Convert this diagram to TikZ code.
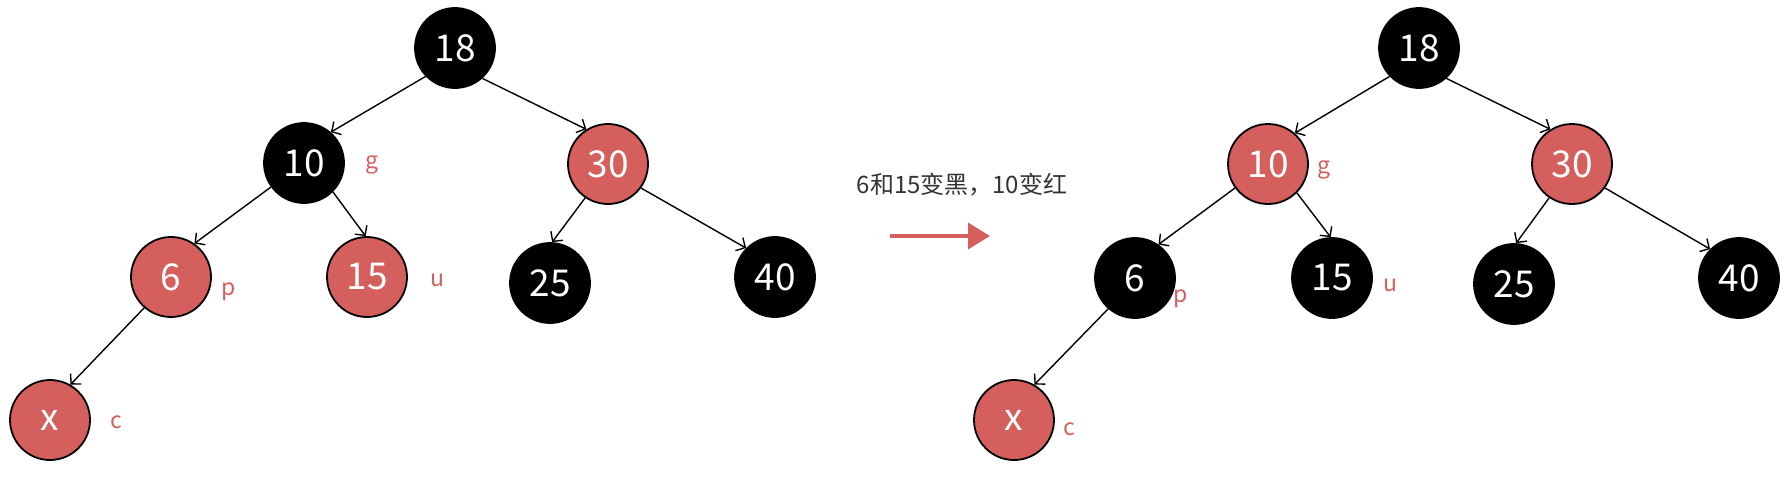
\documentclass[tikz,border=0pt]{standalone}
\usepackage{fontspec}
\newfontfamily\cjk{Noto Sans CJK SC}
\usetikzlibrary{arrows.meta}
\definecolor{rbred}{HTML}{D45F5D}
\definecolor{txtgray}{HTML}{333333}
\tikzset{
  rbnode/.style={circle, minimum size=80pt, inner sep=0pt, line width=1.8pt, draw=black, font=\cjk\fontsize{37}{37}\selectfont, text=white},
  blk/.style={rbnode, fill=black},
  red/.style={rbnode, fill=rbred},
  tag/.style={text=rbred, font=\cjk\fontsize{23}{23}\selectfont, inner sep=0pt},
  edge/.style={-{Straight Barb[length=7pt,width=15pt]}, line width=1.4pt, black},
}
\begin{document}
\begin{tikzpicture}[x=1pt,y=-1pt]
\useasboundingbox (0,0) rectangle (1789,480);
% left tree
\node[blk] (L18) at (455,48) {18};
\node[blk] (L10) at (304,163) {10};
\node[red] (L30) at (608,164) {30};
\node[red] (L6) at (171,277) {6};
\node[red] (L15) at (367,277) {15};
\node[blk] (L25) at (550,283) {25};
\node[blk] (L40) at (775,277) {40};
\node[red] (Lx) at (50,420) {x};
\node[tag] (Lg) at (372,165) {g};
\node[tag] (Lp) at (229,292) {p};
\node[tag] (Lu) at (437,280) {u};
\node[tag] (Lc) at (116,422) {c};
\draw[edge] (L18.224) -- (L10.49);
\draw[edge] (L18.312) -- (L30.122);
\draw[edge] (L10.216) -- (L6.55);
\draw[edge] (L10.315) -- (L15.92);
\draw[edge] (L30.236) -- (L25.87);
\draw[edge] (L30.324) -- (L40.135);
\draw[edge] (L6.229) -- (Lx.60);
% middle
\node[text=txtgray, font=\cjk\fontsize{24}{24}\selectfont, inner sep=0pt] (lbl) at (962,185) {6和15变黑，10变红};
\coordinate (a1) at (890,236);
\coordinate (a2) at (990,236);
\draw[rbred, line width=4pt, -{Triangle[length=22pt,width=26pt]}] (a1) -- (a2);
% right tree
\node[blk] (R18) at (1419,48) {18};
\node[red] (R10) at (1268,164) {10};
\node[red] (R30) at (1572,164) {30};
\node[blk] (R6) at (1135,278) {6};
\node[blk] (R15) at (1332,278) {15};
\node[blk] (R25) at (1514,284) {25};
\node[blk] (R40) at (1739,278) {40};
\node[red] (Rx) at (1014,420) {x};
\node[tag] (Rg) at (1324,170) {g};
\node[tag] (Rp) at (1181,299) {p};
\node[tag] (Ru) at (1390,285) {u};
\node[tag] (Rc) at (1069,429) {c};
\draw[edge] (R18.224) -- (R10.49);
\draw[edge] (R18.312) -- (R30.122);
\draw[edge] (R10.216) -- (R6.55);
\draw[edge] (R10.315) -- (R15.92);
\draw[edge] (R30.236) -- (R25.87);
\draw[edge] (R30.324) -- (R40.135);
\draw[edge] (R6.229) -- (Rx.60);
\end{tikzpicture}
\end{document}
